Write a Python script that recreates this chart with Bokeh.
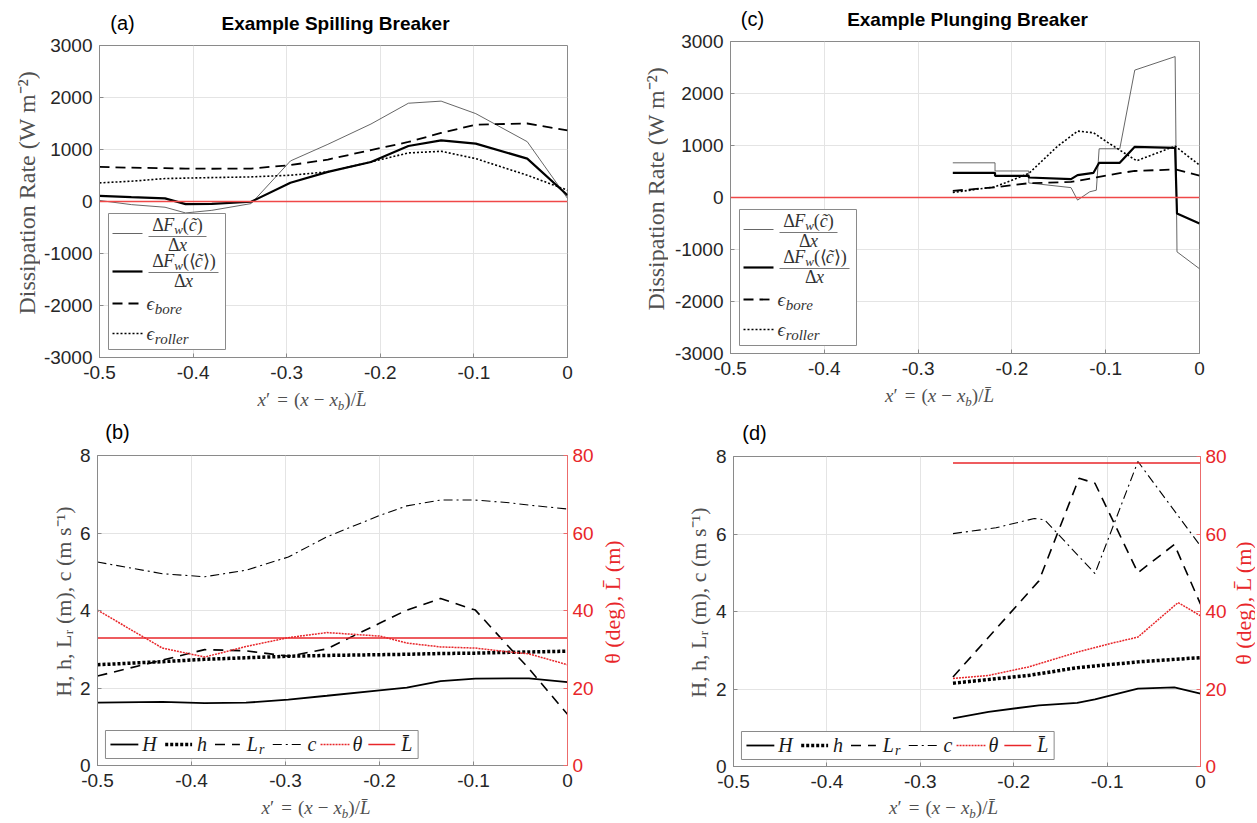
import math
from bokeh.plotting import figure
from bokeh.models import Range1d, LinearAxis, FixedTicker, Label, BoxAnnotation, Span
from bokeh.layouts import row, column
from bokeh.embed import file_html
from bokeh.resources import INLINE

# ---------------- DATA ----------------
X_TICKS = [-0.5, -0.4, -0.3, -0.2, -0.1, 0.0]
X_TICK_LABELS = ["-0.5", "-0.4", "-0.3", "-0.2", "-0.1", "0"]
DISS_TICKS = [-3000, -2000, -1000, 0, 1000, 2000, 3000]
DISS_TICK_LABELS = ["-3000", "-2000", "-1000", "0", "1000", "2000", "3000"]
WAVE_TICKS = [0, 2, 4, 6, 8]
WAVE_TICK_LABELS = ["0", "2", "4", "6", "8"]
ANG_TICKS = [0, 20, 40, 60, 80]
ANG_TICK_LABELS = ["0", "20", "40", "60", "80"]
ZERO_LEVEL = 0

# (a) spilling breaker: dissipation rates (W m^-2)
A_X = [-0.5, -0.466, -0.43, -0.408, -0.38, -0.338, -0.296, -0.256, -0.21, -0.17, -0.135, -0.098, -0.043, 0.0]
A_DFW = [20, -60, -110, -220, -170, -40, 780, 1100, 1490, 1890, 1930, 1690, 1150, 60]
A_DFW_MEAN = [110, 85, 60, -50, -45, -5, 360, 570, 760, 1068, 1177, 1113, 825, 120]
A_BORE = [665, 650, 640, 633, 630, 633, 700, 806, 990, 1145, 1318, 1478, 1500, 1369]
A_ROLLER = [358, 390, 441, 450, 460, 473, 505, 570, 761, 934, 966, 825, 505, 217]

# (c) plunging breaker: dissipation rates (W m^-2)
C_DFW_X = [-0.263, -0.218, -0.218, -0.182, -0.182, -0.137, -0.130, -0.117, -0.110, -0.107, -0.085, -0.069, -0.026, -0.024, 0.0]
C_DFW = [667, 667, 510, 510, 280, 190, -50, 110, 140, 937, 937, 2450, 2710, -1045, -1370]
C_DFW_MEAN_X = [-0.263, -0.218, -0.218, -0.182, -0.182, -0.137, -0.130, -0.113, -0.107, -0.085, -0.069, -0.026, -0.024, 0.0]
C_DFW_MEAN = [475, 475, 417, 417, 385, 353, 430, 475, 667, 667, 975, 956, -308, -500]
C_BORE_X = [-0.263, -0.218, -0.182, -0.137, -0.110, -0.085, -0.069, -0.026, 0.0]
C_BORE = [128, 195, 275, 300, 385, 470, 510, 540, 420]
C_ROLLER_X = [-0.263, -0.218, -0.182, -0.152, -0.130, -0.113, -0.098, -0.067, -0.026, 0.0]
C_ROLLER = [96, 205, 462, 975, 1277, 1245, 1060, 706, 988, 622]

# (b) spilling breaker: wave parameters
B_X = [-0.5, -0.431, -0.386, -0.342, -0.297, -0.256, -0.2, -0.171, -0.135, -0.098, -0.062, -0.041, 0.0]
B_H = [1.62, 1.64, 1.61, 1.62, 1.70, 1.80, 1.94, 2.01, 2.18, 2.24, 2.25, 2.25, 2.15]
B_DEPTH = [2.60, 2.68, 2.74, 2.78, 2.82, 2.84, 2.86, 2.87, 2.89, 2.90, 2.92, 2.93, 2.95]
B_LR = [2.31, 2.72, 2.99, 2.96, 2.82, 3.01, 3.67, 4.01, 4.31, 4.01, 3.05, 2.50, 1.32]
B_C = [5.25, 4.95, 4.87, 5.04, 5.38, 5.90, 6.45, 6.70, 6.85, 6.85, 6.78, 6.72, 6.62]
B_THETA = [40.1, 30.3, 28.0, 30.7, 33.0, 34.3, 33.4, 31.6, 30.6, 30.3, 29.3, 28.8, 26.0]
B_LBAR = 32.9

# (d) plunging breaker: wave parameters
D_H_X = [-0.265, -0.227, -0.173, -0.132, -0.113, -0.067, -0.028, 0.0]
D_H = [1.24, 1.41, 1.58, 1.64, 1.73, 2.01, 2.04, 1.88]
D_DEPTH_X = [-0.265, -0.184, -0.132, -0.067, 0.0]
D_DEPTH = [2.15, 2.35, 2.55, 2.70, 2.81]
D_LR_X = [-0.265, -0.173, -0.130, -0.113, -0.067, -0.028, 0.0]
D_LR = [2.31, 4.79, 7.44, 7.31, 5.00, 5.73, 4.19]
D_C_X = [-0.265, -0.219, -0.178, -0.167, -0.113, -0.067, 0.0]
D_C = [6.01, 6.16, 6.40, 6.37, 4.98, 7.87, 5.69]
D_THETA_X = [-0.265, -0.227, -0.184, -0.132, -0.097, -0.067, -0.024, 0.0]
D_THETA = [22.7, 23.5, 25.7, 29.5, 31.7, 33.4, 42.3, 38.9]
D_LBAR = 78.3

# ---------------- STYLE ----------------
SANS = "Liberation Sans"
SERIF = "Liberation Serif"
RED = "#e8262a"
AXIS_GRAY = "#8a8a8a"
GRID = "#e4e4e4"
TICK_TXT = "#262626"
LABEL_TXT = "#505050"

STY = {
    "dfw": dict(line_color="#555555", line_width=0.9),
    "dfw_mean": dict(line_color="black", line_width=2.2),
    "bore": dict(line_color="black", line_width=1.8, line_dash="10 6"),
    "roller": dict(line_color="black", line_width=1.6, line_dash="2 2"),
    "H": dict(line_color="black", line_width=1.8),
    "h": dict(line_color="black", line_width=3.5, line_dash="3 2"),
    "Lr": dict(line_color="black", line_width=1.6, line_dash="10 7"),
    "c": dict(line_color="black", line_width=1.1, line_dash="9 4 2 4"),
    "theta": dict(line_color=RED, line_width=1.5, line_dash="2 1"),
    "Lbar": dict(line_color=RED, line_width=1.5),
}

# page-pixel geometry: main figure box (x0, y0, W, H) and its frame (fl, ft, fw, fh)
MAIN = {
    "a": dict(x0=40, y0=34, W=580, H=354, fl=99, ft=45, fw=468, fh=312, yr=(-3000, 3000)),
    "c": dict(x0=668, y0=30, W=587, H=354, fl=730, ft=41, fw=469, fh=312, yr=(-3000, 3000)),
    "b": dict(x0=76, y0=444, W=520, H=352, fl=96, ft=455, fw=472, fh=310, yr=(0, 8)),
    "d": dict(x0=712, y0=445, W=517, H=352, fl=731, ft=456, fw=469, fh=310, yr=(0, 8)),
}
# text strips around each main figure: (x0, y0, W, H)
STRIPS = {
    "a": dict(title=(0, 0, 620, 34), ylab=(0, 34, 40, 354), xlab=(0, 388, 620, 24)),
    "c": dict(title=(620, 0, 635, 30), ylab=(620, 30, 48, 354), xlab=(620, 384, 635, 28)),
    "b": dict(title=(0, 412, 628, 32), ylab=(0, 444, 76, 352), rlab=(596, 444, 32, 352), xlab=(0, 796, 628, 24)),
    "d": dict(title=(628, 412, 627, 33), ylab=(628, 445, 84, 352), rlab=(1229, 445, 26, 352), xlab=(628, 797, 627, 23)),
}

CW = {' ': 0.25, '(': 0.333, ')': 0.333, ',': 0.25, '=': 0.564, '−': 0.564, '-': 0.333, '/': 0.278,
      '′': 0.28, 'x': 0.444, 'b': 0.5, 'L': 0.611, 'H': 0.722, 'h': 0.5, 'c': 0.444, 'm': 0.722,
      's': 0.389, 'r': 0.389, 'e': 0.444, 'o': 0.5, 'l': 0.278, 'θ': 0.5, 'd': 0.5, 'g': 0.5,
      'F': 0.611, 'Δ': 0.612, 'w': 0.667, 'ϵ': 0.44, '⟨': 0.33, '⟩': 0.33}
MID = 0.33  # distance (in em) from the middle anchor down to the alphabetic baseline


def tw(text, size):
    return sum(CW.get(ch, 0.5) for ch in text if not (0x300 <= ord(ch) <= 0x36F)) * size


def px2d(g, px, py):
    x0, x1 = g["xr"]
    y0, y1 = g["yr"]
    return (x0 + (px - g["fl"]) / g["fw"] * (x1 - x0),
            y1 - (py - g["ft"]) / g["fh"] * (y1 - y0))


def label(p, g, px, py, text, size, font=SANS, style="normal", color="black",
          align="center", angle=0.0):
    x, y = px2d(g, px, py)
    p.add_layout(Label(x=x, y=y, text=text, text_font=font, text_font_size=f"{size}px",
                       text_font_style=style, text_color=color, text_align=align,
                       text_baseline="middle", angle=angle))


def rich(p, g, apx, apy, pieces, color, font=SERIF, align="center"):
    """Horizontal mixed-style text. pieces: (text, size, style, shift) or (None, gap_px).
    apy is the common alphabetic baseline (page px)."""
    ws = [pc[1] if pc[0] is None else tw(pc[0], pc[1]) for pc in pieces]
    total = sum(ws)
    pos = -total / 2 if align == "center" else 0.0
    for pc, w in zip(pieces, ws):
        if pc[0] is not None and pc[0].strip():
            t, s, st, sh = pc
            q = pos + tw(t[:len(t) - len(t.lstrip())], s)
            label(p, g, apx + q, apy + sh - MID * s, t.strip(), s, font=font, style=st, color=color,
                  align="left")
        pos += w


def seg(p, g, px0, py0, px1, py1, **kw):
    x0, y0 = px2d(g, px0, py0)
    x1, y1 = px2d(g, px1, py1)
    p.segment(x0=[x0], y0=[y0], x1=[x1], y1=[y1], level="overlay", **kw)


def strip(box):
    x0, y0, w, h = box
    p = figure(width=w, height=h, x_range=Range1d(0, w), y_range=Range1d(0, h),
               x_axis_type=None, y_axis_type=None, output_backend="svg", toolbar_location=None,
               title=None, min_border=0, min_border_left=0, min_border_right=0,
               min_border_top=0, min_border_bottom=0)
    p.outline_line_color = None
    p.background_fill_color = "white"
    p.border_fill_color = "white"
    g = dict(fl=x0, ft=y0, fw=w, fh=h, xr=(0, w), yr=(0, h))
    return p, g


def style_axis(ax, ticks, labels, color_line=AXIS_GRAY, color_txt=TICK_TXT, standoff=6):
    ax.ticker = FixedTicker(ticks=ticks)
    ax.major_label_overrides = dict(zip(ticks, labels))
    ax.major_label_text_font = SANS
    ax.major_label_text_font_size = "19px"
    ax.major_label_text_color = color_txt
    ax.major_label_standoff = standoff
    ax.axis_line_color = color_line
    ax.axis_line_width = 1
    ax.major_tick_line_color = color_line
    ax.major_tick_in = 4
    ax.major_tick_out = 0
    ax.minor_tick_line_color = None


def make_main(m, yticks, ylabels):
    g = dict(fl=m["fl"], ft=m["ft"], fw=m["fw"], fh=m["fh"], xr=(X_TICKS[0], X_TICKS[-1]), yr=m["yr"])
    bl = m["fl"] - m["x0"]
    bt = m["ft"] - m["y0"]
    br = m["W"] - bl - m["fw"]
    bb = m["H"] - bt - m["fh"]
    p = figure(width=m["W"], height=m["H"], x_range=Range1d(*g["xr"]), y_range=Range1d(*g["yr"]),
               output_backend="svg", toolbar_location=None, title=None,
               min_border_left=bl, min_border_right=br, min_border_top=bt, min_border_bottom=bb)
    p.background_fill_color = "white"
    p.border_fill_color = "white"
    p.outline_line_color = AXIS_GRAY
    p.outline_line_width = 1
    style_axis(p.xaxis[0], X_TICKS, X_TICK_LABELS, standoff=8)
    style_axis(p.yaxis[0], yticks, ylabels, standoff=7)
    p.xgrid.ticker = FixedTicker(ticks=X_TICKS)
    p.ygrid.ticker = FixedTicker(ticks=yticks)
    p.xgrid.grid_line_color = GRID
    p.ygrid.grid_line_color = GRID
    return p, g


def xlabel_strip(box, baseline_y):
    p, g = strip(box)
    cx = box[0] + box[2] / 2
    rich(p, g, cx + 2, baseline_y, [("x", 19, "italic", 0), ("′", 19, "normal", 0), (None, 6),
                                    ("=", 19, "normal", 0), (None, 6), ("(", 19, "normal", 0),
                                    ("x", 19, "italic", 0), (None, 5), ("−", 19, "normal", 0), (None, 5),
                                    ("x", 19, "italic", 0), ("b", 13, "italic", 4), (")/", 19, "normal", 0),
                                    ("L̄", 19, "italic", 0)], LABEL_TXT)
    return p


def dissip_panel(key, letter, letter_xy, title, title_xy, x_dfw, dfw, x_mean, mean, x_bore, bore, x_rol, rol,
                 ylab_x, xlab_base):
    m, s = MAIN[key], STRIPS[key]
    p, g = make_main(m, DISS_TICKS, DISS_TICK_LABELS)
    p.add_layout(Span(location=ZERO_LEVEL, dimension="width", line_color="#f04848", line_width=1.3))
    p.line(x_dfw, dfw, **STY["dfw"])
    p.line(x_mean, mean, **STY["dfw_mean"])
    p.line(x_bore, bore, **STY["bore"])
    p.line(x_rol, rol, **STY["roller"])
    # legend
    bx, bt = g["fl"] + 9, g["ft"] + 168
    x0, y0 = px2d(g, bx, bt)
    x1, y1 = px2d(g, bx + 117, bt + 136)
    p.add_layout(BoxAnnotation(left=x0, right=x1, top=y0, bottom=y1, fill_color="white", fill_alpha=1.0,
                               line_color=AXIS_GRAY, line_width=1, line_alpha=1.0))
    seg(p, g, bx + 4, bt + 20, bx + 34, bt + 20, **STY["dfw"])
    seg(p, g, bx + 4, bt + 58, bx + 34, bt + 58, **STY["dfw_mean"])
    seg(p, g, bx + 4, bt + 90, bx + 34, bt + 90, **STY["bore"])
    seg(p, g, bx + 4, bt + 120, bx + 34, bt + 120, **STY["roller"])
    lc = "#333333"
    rich(p, g, bx + 69, bt + 17, [("Δ", 18, "normal", 0), ("F", 18, "italic", 0), ("w", 13, "italic", 3),
                                 ("(", 18, "normal", 0), ("c̃", 18, "italic", 0), (")", 18, "normal", 0)], lc)
    seg(p, g, bx + 40, bt + 23, bx + 98, bt + 23, line_color="#555555", line_width=0.8)
    rich(p, g, bx + 69, bt + 37, [("Δ", 18, "normal", 0), ("x", 18, "italic", 0)], lc)
    rich(p, g, bx + 75, bt + 53, [("Δ", 18, "normal", 0), ("F", 18, "italic", 0), ("w", 13, "italic", 3),
                                 ("(⟨", 18, "normal", 0), ("c̃", 18, "italic", 0), ("⟩)", 18, "normal", 0)], lc)
    seg(p, g, bx + 40, bt + 59, bx + 110, bt + 59, line_color="#555555", line_width=0.8)
    rich(p, g, bx + 75, bt + 73, [("Δ", 18, "normal", 0), ("x", 18, "italic", 0)], lc)
    rich(p, g, bx + 38, bt + 96, [("ϵ", 19, "italic", 0), ("bore", 15, "italic", 4)], lc, align="left")
    rich(p, g, bx + 38, bt + 126, [("ϵ", 19, "italic", 0), ("roller", 15, "italic", 4)], lc, align="left")

    # title strip
    tp, tg = strip(s["title"])
    label(tp, tg, letter_xy[0], letter_xy[1], letter, 20)
    label(tp, tg, title_xy[0], title_xy[1], title, 19, style="bold")
    # y label strip
    yp, yg = strip(s["ylab"])
    label(yp, yg, ylab_x, g["ft"] + g["fh"] / 2, "Dissipation Rate (W m⁻²)", 24, font=SERIF,
          color=LABEL_TXT, angle=math.pi / 2)
    xp = xlabel_strip(s["xlab"], xlab_base)
    return column(tp, row(yp, p), xp)


def wave_panel(key, letter, letter_xy, hx, hv, dx, dv, lx, lv, cx_, cv, tx, tv, lbar,
               ylab_x, rlab_x, xlab_base):
    m, s = MAIN[key], STRIPS[key]
    p, g = make_main(m, WAVE_TICKS, WAVE_TICK_LABELS)
    p.extra_y_ranges = {"ang": Range1d(ANG_TICKS[0], ANG_TICKS[-1])}
    rax = LinearAxis(y_range_name="ang")
    style_axis(rax, ANG_TICKS, ANG_TICK_LABELS, color_line="#ec6b6b", color_txt=RED, standoff=5)
    p.add_layout(rax, "right")
    p.line(hx, hv, **STY["H"])
    p.line(dx, dv, **STY["h"])
    p.line(lx, lv, **STY["Lr"])
    p.line(cx_, cv, **STY["c"])
    p.line(tx, tv, y_range_name="ang", **STY["theta"])
    p.line([tx[0], tx[-1]], [lbar, lbar], y_range_name="ang", **STY["Lbar"])
    # legend
    bx, bt = g["fl"] + 8, g["ft"] + 275
    x0, y0 = px2d(g, bx, bt)
    x1, y1 = px2d(g, bx + 314, bt + 28)
    p.add_layout(BoxAnnotation(left=x0, right=x1, top=y0, bottom=y1, fill_color="white", fill_alpha=1.0,
                               line_color=AXIS_GRAY, line_width=1, line_alpha=1.0))
    cy = bt + 14
    for a, b, k in [(5, 33, "H"), (60, 87, "h"), (110, 135, "Lr"), (168, 199, "c"), (216, 245, "theta"),
                    (264, 291, "Lbar")]:
        seg(p, g, bx + a, cy, bx + b, cy, **STY[k])
    lc = "#1a1a1a"
    by = cy + 6
    rich(p, g, bx + 37, by, [("H", 20, "italic", 0)], lc, align="left")
    rich(p, g, bx + 92, by, [("h", 20, "italic", 0)], lc, align="left")
    rich(p, g, bx + 142, by, [("L", 20, "italic", 0), ("r", 14, "italic", 4)], lc, align="left")
    rich(p, g, bx + 203, by, [("c", 20, "italic", 0)], lc, align="left")
    rich(p, g, bx + 248, by, [("θ", 20, "italic", 0)], lc, align="left")
    rich(p, g, bx + 297, by, [("L̄", 20, "italic", 0)], lc, align="left")

    tp, tg = strip(s["title"])
    label(tp, tg, letter_xy[0], letter_xy[1], letter, 20)
    yp, yg = strip(s["ylab"])
    label(yp, yg, ylab_x, g["ft"] + g["fh"] / 2, "H, h, Lᵣ (m), c (m s⁻¹)", 22, font=SERIF,
          color=LABEL_TXT, angle=math.pi / 2)
    rp, rg = strip(s["rlab"])
    label(rp, rg, rlab_x, g["ft"] + g["fh"] / 2, "θ (deg), L̄ (m)", 22, font=SERIF,
          color=RED, angle=math.pi / 2)
    xp = xlabel_strip(s["xlab"], xlab_base)
    return column(tp, row(yp, p, rp), xp)


col_a = dissip_panel("a", "(a)", (122, 22), "Example Spilling Breaker", (335, 22.5),
                     A_X, A_DFW, A_X, A_DFW_MEAN, A_X, A_BORE, A_X, A_ROLLER, 26, 405)
col_c = dissip_panel("c", "(c)", (752, 18), "Example Plunging Breaker", (967, 18.5),
                     C_DFW_X, C_DFW, C_DFW_MEAN_X, C_DFW_MEAN, C_BORE_X, C_BORE, C_ROLLER_X, C_ROLLER, 655, 401)
col_b = wave_panel("b", "(b)", (117, 431.5), B_X, B_H, B_X, B_DEPTH, B_X, B_LR, B_X, B_C, B_X, B_THETA, B_LBAR,
                   63, 612, 813)
col_d = wave_panel("d", "(d)", (754, 432.5), D_H_X, D_H, D_DEPTH_X, D_DEPTH, D_LR_X, D_LR, D_C_X, D_C,
                   D_THETA_X, D_THETA, D_LBAR, 698, 1243, 813)

layout = column(row(col_a, col_c), row(col_b, col_d))
open("out.html", "w").write(file_html(layout, INLINE))
